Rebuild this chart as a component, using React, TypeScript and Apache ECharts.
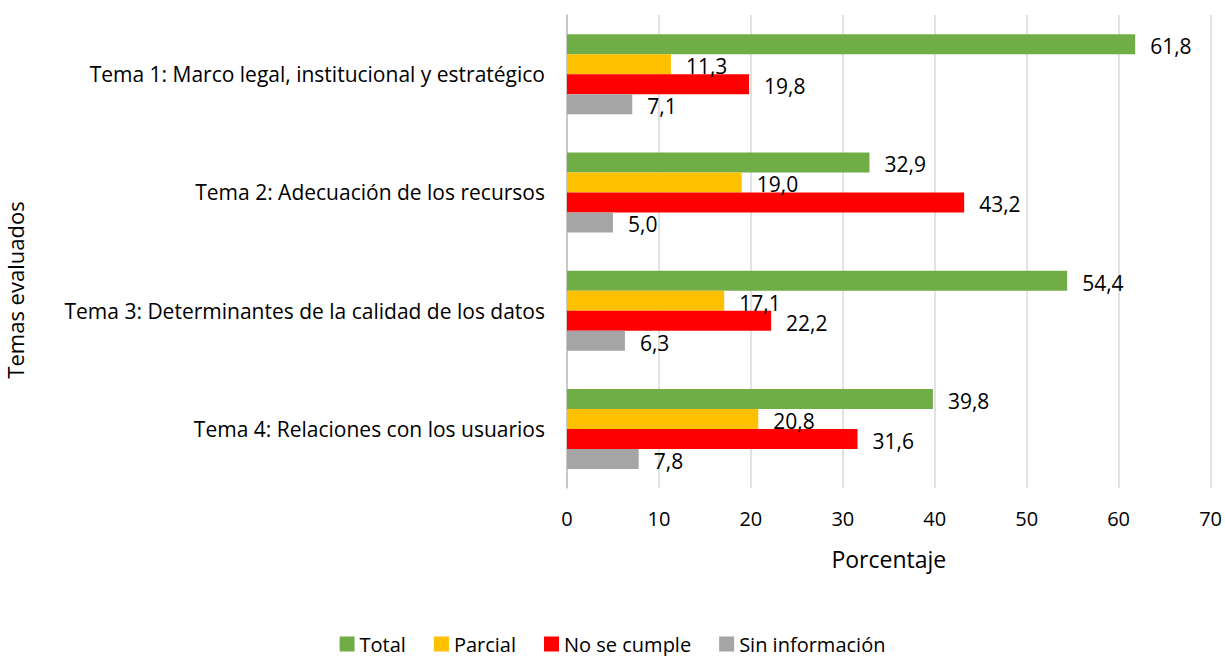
import React, { useEffect, useRef } from "react";
import * as echarts from "echarts";

const categories = [
  "Tema 1: Marco legal, institucional y estratégico",
  "Tema 2: Adecuación de los recursos",
  "Tema 3: Determinantes de la calidad de los datos",
  "Tema 4: Relaciones con los usuarios",
];
const seriesNames = ["Total", "Parcial", "No se cumple", "Sin información"];
const totalValues = [61.8, 32.9, 54.4, 39.8];
const parcialValues = [11.3, 19.0, 17.1, 20.8];
const noCumpleValues = [19.8, 43.2, 22.2, 31.6];
const sinInfoValues = [7.1, 5.0, 6.3, 7.8];
const colors = ["#70AD47", "#FFC000", "#FF0000", "#A5A5A5"];

const FONT = "Open Sans";

export default function App() {
  const ref = useRef<HTMLDivElement>(null);
  useEffect(() => {
    if (!ref.current) return;
    const chart = echarts.init(ref.current, undefined, { renderer: "svg" });
    const dataSets = [totalValues, parcialValues, noCumpleValues, sinInfoValues];
    chart.setOption({
      animation: false,
      textStyle: { fontFamily: FONT },
      grid: { left: 567, right: 14, top: 15, bottom: 168, containLabel: false },
      legend: {
        top: 634,
        left: "center",
        padding: 0,
        itemWidth: 15,
        itemHeight: 15,
        itemGap: 28,
        icon: "rect",
        textStyle: { fontSize: 20, color: "#000", fontFamily: FONT, lineHeight: 20 },
        data: seriesNames,
      },
      xAxis: {
        type: "value",
        min: 0,
        max: 70,
        interval: 10,
        name: "Porcentaje",
        nameLocation: "middle",
        nameGap: 59,
        nameTextStyle: { fontSize: 23, color: "#000", fontFamily: FONT },
        axisLine: { show: false },
        axisTick: { show: false },
        axisLabel: { fontSize: 20, color: "#000", margin: 20, fontFamily: FONT },
        splitLine: { show: true, lineStyle: { color: "#D9D9D9", width: 1.5 } },
      },
      yAxis: {
        type: "category",
        data: categories,
        inverse: true,
        axisLine: { show: true, lineStyle: { color: "#BFBFBF", width: 1.5 } },
        axisTick: { show: false },
        axisLabel: { fontSize: 21, color: "#000", margin: 22, fontFamily: FONT },
        splitLine: { show: false },
      },
      graphic: [
        {
          type: "text",
          x: 4,
          y: 290,
          rotation: Math.PI / 2,
          style: {
            text: "Temas evaluados",
            fontSize: 22,
            fontFamily: FONT,
            fill: "#000",
            textAlign: "center",
            textVerticalAlign: "top",
          },
        },
      ],
      series: seriesNames.map((name, i) => ({
        name,
        type: "bar",
        data: dataSets[i],
        barWidth: 20,
        barGap: "0%",
        itemStyle: { color: colors[i] },
        label: {
          show: true,
          position: "right",
          distance: 15,
          offset: [0, 2],
          fontSize: 21,
          color: "#000",
          fontFamily: FONT,
          formatter: (p: any) => p.value.toFixed(1).replace(".", ","),
        },
      })),
    });
    return () => chart.dispose();
  }, []);
  return (
    <div
      ref={ref}
      style={{ position: "absolute", left: 0, top: 0, width: 1225, height: 656 }}
    />
  );
}
